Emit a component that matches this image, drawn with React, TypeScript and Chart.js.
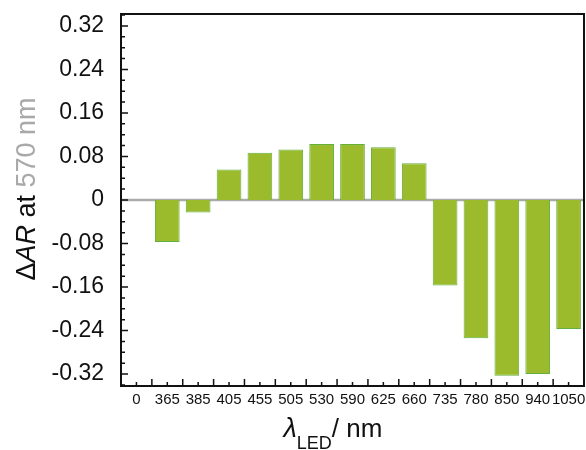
import React, { useEffect, useRef } from "react";
import { Chart, registerables } from "chart.js";

Chart.register(...registerables);

const categories = ["0", "365", "385", "405", "455", "505", "530", "590", "625", "660", "735", "780", "850", "940", "1050"];
const deltaAR: (number | null)[] = [null, -0.077, -0.023, 0.056, 0.087, 0.093, 0.103, 0.103, 0.097, 0.0675, -0.157, -0.254, -0.323, -0.320, -0.237];
const yTicks = [-0.32, -0.24, -0.16, -0.08, 0, 0.08, 0.16, 0.24, 0.32];
const yMinorStep = 0.02;
const yMin = -0.342;
const yMax = 0.342;

const FONT = "'Liberation Sans', Arial, Helvetica, sans-serif";

const decorPlugin = {
  id: "decor",
  beforeDatasetsDraw(chart: any) {
    const { ctx, chartArea: a, scales } = chart;
    const y = scales.y;
    const y0 = y.getPixelForValue(0);
    ctx.save();
    ctx.strokeStyle = "#ababab";
    ctx.lineWidth = 2.5;
    ctx.beginPath();
    ctx.moveTo(a.left, y0);
    ctx.lineTo(a.right, y0);
    ctx.stroke();
    ctx.restore();
  },
  afterDraw(chart: any) {
    const { ctx, chartArea: a, scales } = chart;
    const x = scales.x;
    const y = scales.y;
    ctx.save();
    // frame
    ctx.strokeStyle = "#111";
    ctx.lineWidth = 2;
    ctx.strokeRect(a.left, a.top, a.right - a.left, a.bottom - a.top);
    // y ticks inward
    ctx.lineWidth = 1.5;
    ctx.beginPath();
    const nMinor = Math.round((yTicks[yTicks.length - 1] - yTicks[0]) / yMinorStep);
    for (let i = -1; i <= nMinor + 1; i++) {
      const v = yTicks[0] + i * yMinorStep;
      if (v < yMin || v > yMax) continue;
      const p = y.getPixelForValue(v);
      const major = ((i % 4) + 4) % 4 === 0;
      ctx.moveTo(a.left, p);
      ctx.lineTo(a.left + (major ? 7 : 4), p);
    }
    // x ticks inward
    const n = categories.length;
    const half = (x.getPixelForValue(1) - x.getPixelForValue(0)) / 2;
    for (let i = 0; i < n; i++) {
      const c = x.getPixelForValue(i);
      ctx.moveTo(c, a.bottom);
      ctx.lineTo(c, a.bottom - 4);
      if (i < n - 1) {
        ctx.moveTo(c + half, a.bottom);
        ctx.lineTo(c + half, a.bottom - 7);
      }
    }
    ctx.stroke();

    // y title
    ctx.save();
    ctx.translate(35, 189);
    ctx.rotate(-Math.PI / 2);
    ctx.textBaseline = "alphabetic";
    const size = 27;
    const parts = [
      { t: "\u0394", f: `${size}px ${FONT}`, c: "#111" },
      { t: "AR", f: `italic ${size}px ${FONT}`, c: "#111" },
      { t: " at ", f: `${size}px ${FONT}`, c: "#111" },
      { t: "570 nm", f: `${size}px ${FONT}`, c: "#a9a9a9" },
    ];
    let total = 0;
    for (const p of parts) {
      ctx.font = p.f;
      total += ctx.measureText(p.t).width;
    }
    let cx = -total / 2;
    for (const p of parts) {
      ctx.font = p.f;
      ctx.fillStyle = p.c;
      ctx.fillText(p.t, cx, 0);
      cx += ctx.measureText(p.t).width;
    }
    ctx.restore();

    // x title
    const base = 437;
    const xparts = [
      { t: "\u03bb", f: `italic 27px ${FONT}`, dy: 0 },
      { t: "LED", f: `18px ${FONT}`, dy: 12 },
      { t: "/ nm", f: `26px ${FONT}`, dy: 0 },
    ];
    let tw = 0;
    for (const p of xparts) {
      ctx.font = p.f;
      tw += ctx.measureText(p.t).width;
    }
    let px = 333 - tw / 2;
    ctx.fillStyle = "#111";
    ctx.textBaseline = "alphabetic";
    for (const p of xparts) {
      ctx.font = p.f;
      ctx.fillText(p.t, px, base + p.dy);
      px += ctx.measureText(p.t).width;
    }
    ctx.restore();
  },
};

export default function App() {
  const ref = useRef<HTMLCanvasElement | null>(null);
  useEffect(() => {
    if (!ref.current) return;
    const chart = new Chart(ref.current, {
      type: "bar",
      data: {
        labels: categories,
        datasets: [
          {
            data: deltaAR as any,
            backgroundColor: "rgb(155,187,45)",
            borderColor: "rgb(98,176,62)",
            borderWidth: 1,
            categoryPercentage: 0.8,
            barPercentage: 1,
          },
        ],
      },
      options: {
        responsive: false,
        animation: false,
        devicePixelRatio: 1,
        layout: { padding: { top: 14, right: 2, left: 0, bottom: 0 } },
        plugins: { legend: { display: false }, tooltip: { enabled: false }, title: { display: false } },
        scales: {
          x: {
            type: "category",
            offset: true,
            grid: { display: false, drawTicks: false },
            border: { display: false },
            ticks: {
              autoSkip: false,
              maxRotation: 0,
              minRotation: 0,
              padding: 5,
              color: "#111",
              font: { family: FONT, size: 15 },
            },
            afterFit(scale: any) {
              scale.height = 64;
              scale.paddingLeft = 0;
              scale.paddingRight = 0;
            },
          },
          y: {
            type: "linear",
            min: yMin,
            max: yMax,
            grid: { display: false, drawTicks: false },
            border: { display: false },
            afterBuildTicks(scale: any) {
              scale.ticks = yTicks.map((v) => ({ value: v }));
            },
            ticks: {
              padding: 17,
              color: "#111",
              font: { family: FONT, size: 23 },
              callback: (v: any) => (Number(v) === 0 ? "0" : Number(v).toFixed(2)),
            },
            afterFit(scale: any) {
              scale.width = 121;
              scale.paddingTop = 0;
              scale.paddingBottom = 0;
            },
          },
        },
      },
      plugins: [decorPlugin],
    });
    return () => chart.destroy();
  }, []);
  return (
    <div style={{ position: "absolute", left: 0, top: 0, width: 586, height: 450, background: "#fff" }}>
      <canvas ref={ref} width={586} height={450} />
    </div>
  );
}
